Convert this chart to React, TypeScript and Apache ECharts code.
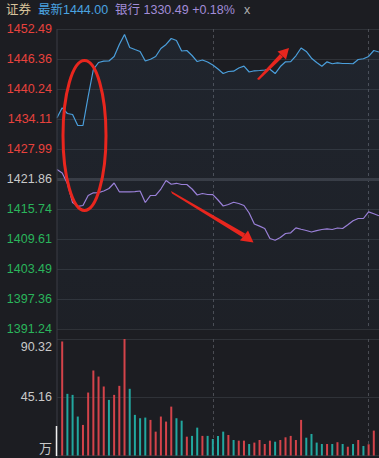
import React, { useEffect, useRef } from "react";
import * as echarts from "echarts";

// ---- data ----
const priceTickLabels = ["1391.24", "1397.36", "1403.49", "1409.61", "1415.74", "1421.86", "1427.99", "1434.11", "1440.24", "1446.36", "1452.49"];
const priceMin = 1391.24;
const priceMax = 1452.49;
const priceInterval = 6.125;
const baseValue = 1421.865;

const volTickLabels = ["万", "45.16", "90.32"];
const volMax = 90.32;
const volInterval = 45.16;

const securities = [
  1434.36, 1436.4, 1435.24, 1435.03, 1432.79, 1432.79, 1438.71, 1444.22, 1445.65, 1445.92,
  1445.96, 1446.88, 1449.33, 1451.37, 1448.71, 1448.3, 1447.9, 1445.96, 1446.32, 1446.88,
  1448.51, 1449.33, 1450.55, 1450.14, 1448.0, 1448.1, 1447.08, 1445.85, 1446.16, 1445.75,
  1445.14, 1444.32, 1443.4, 1443.81, 1443.87, 1444.53, 1444.9, 1443.71, 1443.96, 1444.02,
  1444.12, 1444.28, 1443.4, 1444.83, 1445.79, 1445.81, 1447.02, 1448.61, 1447.9, 1446.53,
  1445.65, 1444.9, 1445.79, 1445.39, 1445.59, 1445.45, 1445.45, 1445.39, 1446.26, 1446.41,
  1446.88, 1448.1, 1447.79,
];

const banks = [
  1423.8, 1423.09, 1420.95, 1417.07, 1416.29, 1416.46, 1418.5, 1419.05, 1419.07, 1419.42,
  1419.93, 1421.05, 1419.25, 1419.25, 1419.25, 1419.27, 1419.42, 1417.07, 1418.5, 1418.54,
  1419.82, 1421.56, 1420.8, 1420.99, 1420.74, 1420.74, 1419.82, 1418.6, 1418.9, 1418.7,
  1418.66, 1417.58, 1416.35, 1416.66, 1417.11, 1416.86, 1416.46, 1414.92, 1412.68, 1412.25,
  1411.76, 1409.72, 1409.37, 1409.92, 1410.74, 1410.88, 1411.88, 1411.6, 1411.35, 1411.04,
  1411.33, 1411.55, 1411.7, 1411.55, 1411.86, 1411.76, 1412.53, 1413.35, 1413.8, 1413.8,
  1415.15, 1414.78, 1414.35,
];

const volumes = [
  null, 88.4, 47.8, 47.0, 30.2, 23.7, 48.8, 65.9, 61.2, 53.5,
  43.1, 47.0, 54.0, 90.3, 51.7, 31.5, 28.9, 29.4, 27.6, 18.5,
  30.2, 26.3, 37.9, 28.9, 27.0, 14.6, 15.2, 21.6, 15.2, 15.2,
  12.8, 15.2, 18.5, 15.9, 12.0, 11.5, 11.5, 8.9, 10.0, 12.0,
  8.9, 11.5, 10.7, 12.0, 14.1, 15.2, 12.0, 27.6, 13.8, 16.7,
  10.0, 8.9, 8.9, 8.9, 10.3, 8.9, 6.8, 8.9, 12.0, 7.4,
  8.7, 19.3, null,
];

// "u" = red (up), "d" = teal (down)
const volDir = [
  "u", "u", "d", "d", "d", "u", "u", "u", "u", "u",
  "d", "u", "u", "u", "d", "d", "d", "d", "u", "u",
  "u", "u", "u", "d", "d", "u", "d", "d", "u", "d",
  "d", "d", "d", "u", "d", "u", "u", "d", "u", "u",
  "u", "u", "d", "u", "u", "u", "u", "u", "d", "d",
  "d", "d", "u", "d", "u", "d", "u", "d", "u", "d",
  "u", "u", "u",
];

const times: string[] = securities.map((_, i) => {
  const m = 30 + i;
  const h = 9 + Math.floor(m / 60);
  const mm = m % 60;
  return `${String(h).padStart(2, "0")}:${String(mm).padStart(2, "0")}`;
});

const BG = "#1c1d22";
const RED = "#e8423d";
const GREEN = "#2ab45b";
const GRAYTXT = "#c9c9c9";
const GRIDLINE = "#2f3238";
const BLUE = "#4b9fdc";
const PURPLE = "#9a80d8";
const ANNO = "#e8261e";
const FONT = '"Liberation Sans", "Noto Sans CJK SC", sans-serif';

export default function App() {
  const ref = useRef<HTMLDivElement>(null);
  useEffect(() => {
    if (!ref.current) return;
    const chart = echarts.init(ref.current, undefined, { renderer: "svg" });
    const gridLeft = 57;
    const gridWidth = 62 * 5.22;
    const option: any = {
      animation: false,
      backgroundColor: BG,
      textStyle: { fontFamily: FONT },
      grid: [
        { left: gridLeft, width: gridWidth, top: 29, height: 300 },
        { left: gridLeft, width: gridWidth, top: 339, height: 116.5 },
      ],
      xAxis: [0, 1].map((gi) => ({
        type: "category",
        gridIndex: gi,
        data: times,
        boundaryGap: false,
        axisLine: { show: false },
        axisTick: { show: false },
        axisLabel: { show: false },
        splitLine: {
          show: true,
          interval: (index: number) => index === 30 || index === 60,
          lineStyle: { color: "#4a4c53", type: [3, 3], width: 1 },
        },
      })),
      yAxis: [
        {
          type: "value",
          gridIndex: 0,
          min: priceMin,
          max: priceMax,
          interval: priceInterval,
          axisLine: { show: false },
          axisTick: { show: false },
          splitLine: { show: true, lineStyle: { color: GRIDLINE, width: 1 } },
          axisLabel: {
            margin: 5,
            fontSize: 12.5,
            fontFamily: FONT,
            formatter: (v: number) => {
              const idx = Math.round((v - priceMin) / priceInterval);
              const lbl = priceTickLabels[idx] ?? "";
              const tag = idx > 5 ? "r" : idx < 5 ? "g" : "n";
              return `{${tag}|${lbl}}`;
            },
            rich: {
              r: { color: RED, fontSize: 12.5, fontFamily: FONT },
              g: { color: GREEN, fontSize: 12.5, fontFamily: FONT },
              n: { color: GRAYTXT, fontSize: 12.5, fontFamily: FONT },
            },
          },
        },
        {
          type: "value",
          gridIndex: 1,
          min: 0,
          max: volMax,
          interval: volInterval,
          axisLine: { show: false },
          axisTick: { show: false },
          splitLine: { show: true, lineStyle: { color: GRIDLINE, width: 1 } },
          axisLabel: {
            margin: 5,
            fontSize: 12.5,
            fontFamily: FONT,
            formatter: (v: number) => {
              const idx = Math.round(v / volInterval);
              const lbl = volTickLabels[idx] ?? "";
              if (idx === 2) return `{top|${lbl}}`;
              if (idx === 0) return `{bot|${lbl}}`;
              return `{mid|${lbl}}`;
            },
            rich: {
              top: { color: GRAYTXT, fontSize: 12.5, fontFamily: FONT, padding: [16, 0, 0, 0] },
              mid: { color: GRAYTXT, fontSize: 12.5, fontFamily: FONT },
              bot: { color: GRAYTXT, fontSize: 13, fontFamily: FONT, padding: [0, 0, 14, 0] },
            },
          },
        },
      ],
      series: [
        {
          type: "line",
          name: "证券",
          xAxisIndex: 0,
          yAxisIndex: 0,
          data: securities,
          symbol: "none",
          lineStyle: { color: BLUE, width: 1.2 },
          areaStyle: {
            origin: "start",
            color: new echarts.graphic.LinearGradient(0, 0, 0, 1, [
              { offset: 0, color: "rgba(80,140,200,0.10)" },
              { offset: 1, color: "rgba(80,140,200,0.04)" },
            ]),
          },
          z: 3,
          markLine: {
            silent: true,
            symbol: "none",
            label: { show: false },
            lineStyle: { color: "#373940", width: 3, type: "solid" },
            data: [{ yAxis: baseValue }],
            z: 1,
          },
        },
        {
          type: "line",
          name: "银行",
          xAxisIndex: 0,
          yAxisIndex: 0,
          data: banks,
          symbol: "none",
          lineStyle: { color: PURPLE, width: 1.2 },
          z: 4,
        },
        {
          type: "bar",
          xAxisIndex: 1,
          yAxisIndex: 1,
          barWidth: 2,
          data: volumes.map((v, i) => ({
            value: v,
            itemStyle: { color: volDir[i] === "u" ? "#d4434a" : "#22a79f" },
          })),
        },
      ],
      graphic: [
        {
          type: "line",
          shape: { x1: 57, y1: 29, x2: 57, y2: 458 },
          style: { stroke: "#3a3d44", lineWidth: 1 },
          z: 5,
        },
        {
          type: "line",
          shape: { x1: 56.5, y1: 426, x2: 56.5, y2: 456 },
          style: { stroke: "#f0f0f0", lineWidth: 1.5 },
          z: 6,
        },
        {
          type: "text",
          x: 6,
          y: 10,
          style: { text: "证券", fill: "#d8c39a", fontSize: 12.5, fontFamily: FONT, verticalAlign: "middle" },
          z: 10,
        },
        {
          type: "text",
          x: 38,
          y: 10,
          style: { text: "最新1444.00", fill: "#4aa3e0", fontSize: 12.5, fontFamily: FONT, verticalAlign: "middle" },
          z: 10,
        },
        {
          type: "text",
          x: 115,
          y: 10,
          style: { text: "银行 1330.49 +0.18%", fill: "#a28cd8", fontSize: 12.5, fontFamily: FONT, verticalAlign: "middle" },
          z: 10,
        },
        {
          type: "text",
          x: 244,
          y: 10,
          style: { text: "x", fill: "#b0b0b0", fontSize: 12.5, fontFamily: FONT, verticalAlign: "middle" },
          z: 10,
        },
        // annotations
        {
          type: "ellipse",
          shape: { cx: 84.5, cy: 135.5, rx: 21.5, ry: 75 },
          style: { fill: "none", stroke: ANNO, lineWidth: 3 },
          z: 20,
        },
        {
          type: "polygon",
          shape: { points: [[257, 79], [259, 80], [283, 57], [280, 54]] },
          style: { fill: ANNO },
          z: 20,
        },
        {
          type: "polygon",
          shape: { points: [[289, 48], [277.5, 51.5], [286, 59.5]] },
          style: { fill: ANNO },
          z: 20,
        },
        {
          type: "polygon",
          shape: { points: [[171, 191], [172, 193.5], [243, 237.5], [245, 233.5]] },
          style: { fill: ANNO },
          z: 20,
        },
        {
          type: "polygon",
          shape: { points: [[253.5, 242.5], [240, 240.5], [244, 235.5], [248, 230.5]] },
          style: { fill: ANNO },
          z: 20,
        },
      ],
    };
    chart.setOption(option);
    return () => chart.dispose();
  }, []);
  return (
    <div
      ref={ref}
      style={{ position: "fixed", left: 0, top: 0, width: 379, height: 458, background: BG }}
    />
  );
}
